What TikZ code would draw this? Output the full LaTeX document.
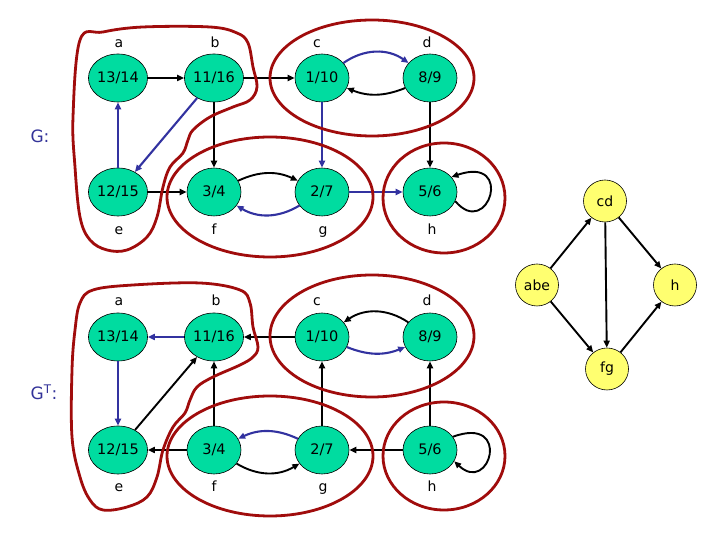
\documentclass[tikz,border=0pt]{standalone}
\usepackage{fontspec}
\setmainfont{DejaVu Sans}
\usetikzlibrary{arrows.meta,shapes.geometric}
\definecolor{nodeteal}{RGB}{0,220,160}
\definecolor{nodeyel}{RGB}{255,255,112}
\definecolor{edgeblue}{RGB}{50,50,160}
\definecolor{sccred}{RGB}{160,12,12}
\definecolor{glab}{RGB}{51,51,153}
\begin{document}
\begin{tikzpicture}[x=1pt,y=1pt,
  vnode/.style={ellipse,draw=black,line width=0.6pt,fill=nodeteal,minimum width=54pt,minimum height=48pt,inner sep=0pt,font=\fontsize{14.5}{17}\selectfont},
  ynode/.style={ellipse,draw=black,line width=0.6pt,fill=nodeyel,minimum width=43pt,minimum height=42pt,inner sep=0pt,font=\fontsize{14}{17}\selectfont},
  lbl/.style={font=\fontsize{14}{17}\selectfont,inner sep=0pt,anchor=base},
  glbl/.style={font=\fontsize{17}{20}\selectfont,text=glab,inner sep=0pt,anchor=base},
  blk/.style={draw=black,line width=1.9pt,-{Triangle[length=7pt,width=6pt]}},
  bl/.style={draw=edgeblue,line width=2.1pt,-{Triangle[length=7pt,width=6pt]}},
  scc/.style={draw=sccred,line width=2.8pt}
]
\fill[white] (0,0) rectangle (720,540);
\useasboundingbox (0,0) rectangle (720,540);

% ---------- G ----------
\node[vnode] (ta) at (118,462) {13/14};
\node[vnode] (tb) at (214,462) {11/16};
\node[vnode] (tc) at (322,462) {1/10};
\node[vnode] (td) at (430,462) {8/9};
\node[vnode] (te) at (118,348) {12/15};
\node[vnode] (tf) at (214,348) {3/4};
\node[vnode] (tg) at (322,348) {2/7};
\node[vnode] (th) at (430,348) {5/6};

\node[lbl] (tla) at (119,492) {a};
\node[lbl] (tlb) at (215,492) {b};
\node[lbl] (tlc) at (317,492) {c};
\node[lbl] (tld) at (427,492) {d};
\node[lbl] (tle) at (119,305) {e};
\node[lbl] (tlf) at (214,305) {f};
\node[lbl] (tlg) at (323,305) {g};
\node[lbl] (tlh) at (432,305) {h};

\node[glbl] (gname) at (40,397) {G:};

\draw[blk] (ta) -- (tb);
\draw[blk] (tb) -- (tc);
\draw[bl] (tc) to[bend left=35] (td);
\draw[blk] (td) to[bend left=22] (tc);
\draw[blk] (tb) -- (tf);
\draw[bl] (tb) -- (te);
\draw[bl] (te) -- (ta);
\draw[blk] (te) -- (tf);
\draw[blk] (tf) to[bend left=25] (tg);
\draw[bl] (tg) to[bend left=31] (tf);
\draw[bl] (tc) -- (tg);
\draw[bl] (tg) -- (th);
\draw[blk] (td) -- (th);
\draw[blk] (th.-20) .. controls (488,300) and (515,385) .. (th.35);

% ---------- G^T ----------
\node[vnode] (ba) at (118,203) {13/14};
\node[vnode] (bb) at (214,203) {11/16};
\node[vnode] (bc) at (322,203) {1/10};
\node[vnode] (bd) at (430,203) {8/9};
\node[vnode] (be) at (118,90) {12/15};
\node[vnode] (bf) at (214,90) {3/4};
\node[vnode] (bg) at (322,90) {2/7};
\node[vnode] (bh) at (430,90) {5/6};

\node[lbl] (bla) at (119,234) {a};
\node[lbl] (blb) at (216,234) {b};
\node[lbl] (blc) at (317,234) {c};
\node[lbl] (bld) at (427,234) {d};
\node[lbl] (ble) at (119,48) {e};
\node[lbl] (blf) at (214,48) {f};
\node[lbl] (blg) at (323,48) {g};
\node[lbl] (blh) at (432,48) {h};

\node[glbl] (gtname) at (44,140) {G\textsuperscript{T}:};

\draw[bl] (bb) -- (ba);
\draw[blk] (bc) -- (bb);
\draw[blk] (bd) to[bend right=34] (bc);
\draw[bl] (bc) to[bend right=22] (bd);
\draw[blk] (bf) -- (bb);
\draw[blk] (be) -- (bb);
\draw[bl] (ba) -- (be);
\draw[blk] (bf) -- (be);
\draw[bl] (bg) to[bend right=25] (bf);
\draw[blk] (bf) to[bend right=31] (bg);
\draw[blk] (bg) -- (bc);
\draw[blk] (bh) -- (bg);
\draw[blk] (bh) -- (bd);
\draw[blk] (bh.30) .. controls (512,125) and (490,45) .. (bh.-25);

% ---------- component graph ----------
\node[ynode] (cd) at (605,339) {cd};
\node[ynode] (abe) at (537,255) {abe};
\node[ynode] (yh) at (675,255) {h};
\node[ynode] (fg) at (607,171) {fg};
\draw[blk] (abe) -- (cd);
\draw[blk] (cd) -- (yh);
\draw[blk] (cd) -- (fg);
\draw[blk] (abe) -- (fg);
\draw[blk] (fg) -- (yh);

% ---------- SCC outlines ----------
\draw[scc] plot[smooth cycle,tension=0.6] coordinates {(80,500) (103,508) (143,513) (210,513) (237,507) (248,497) (253,473) (257,453) (250,440) (233,433) (210,423) (193,410) (188,400) (183,387) (170,373) (163,353) (157,323) (147,303) (127,290) (107,290) (90,300) (80,323) (75,373) (73,423)};
\draw[scc] (372,462) ellipse [x radius=102, y radius=58];
\draw[scc] (270,343) ellipse [x radius=103, y radius=60];
\draw[scc] (444,342) ellipse [x radius=61, y radius=55];

\draw[scc] plot[smooth cycle,tension=0.6] coordinates {(80,237) (93,250) (133,255) (200,257) (240,250) (250,237) (253,213) (258,193) (253,183) (240,175) (213,163) (197,153) (190,140) (185,127) (173,113) (163,90) (157,63) (147,43) (127,33) (103,30) (90,40) (80,63) (72,103) (72,170) (75,210)};
\draw[scc] (372,204) ellipse [x radius=102, y radius=61];
\draw[scc] (270,84) ellipse [x radius=103, y radius=60];
\draw[scc] (444,84) ellipse [x radius=61, y radius=54];
\end{tikzpicture}
\end{document}
